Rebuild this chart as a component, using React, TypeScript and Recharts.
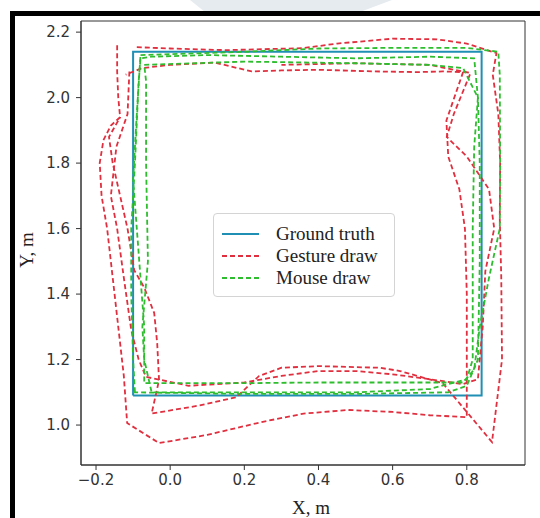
import {
  LineChart,
  Line,
  XAxis,
  YAxis,
  Legend,
  Label,
  ReferenceArea,
} from "recharts";

// axis setup
const xTicks = [-0.2, 0.0, 0.2, 0.4, 0.6, 0.8];
const yTicks = [1.0, 1.2, 1.4, 1.6, 1.8, 2.0, 2.2];
const xDomain: [number, number] = [-0.2405, 0.957];
const yDomain: [number, number] = [0.878, 2.234];

// ground truth square
const groundTruth: [number, number][] = [
  [-0.1, 1.09], [0.84, 1.09], [0.84, 2.14], [-0.1, 2.14], [-0.1, 1.09],
];

// gesture draw runs (red)
const gestureRun1: [number, number][] = [
  [-0.143, 2.16], [-0.143, 2.08], [-0.14, 2.0], [-0.135, 1.94], [-0.16, 1.915],
  [-0.18, 1.87], [-0.19, 1.8], [-0.185, 1.7], [-0.17, 1.6], [-0.155, 1.45],
  [-0.14, 1.3], [-0.125, 1.15], [-0.116, 1.006], [-0.03, 0.945], [0.1, 0.97],
  [0.25, 1.01], [0.36, 1.035], [0.48, 1.046], [0.6, 1.04], [0.7, 1.03],
  [0.8, 1.024], [0.8, 1.2], [0.8, 1.4], [0.795, 1.6], [0.78, 1.72],
  [0.75, 1.82], [0.745, 1.93], [0.79, 2.078], [0.735, 2.08], [0.67, 2.078],
  [0.55, 2.08], [0.4, 2.085], [0.3, 2.083], [0.22, 2.08], [0.12, 2.107],
  [0.0, 2.1], [-0.076, 2.09], [-0.12, 2.07],
];
const gestureRun2: [number, number][] = [
  [-0.09, 2.154], [0.0, 2.15], [0.15, 2.145], [0.357, 2.151], [0.45, 2.165],
  [0.6, 2.18], [0.72, 2.178], [0.8, 2.165], [0.88, 2.136], [0.87, 2.07],
  [0.885, 1.95], [0.89, 1.8], [0.889, 1.63], [0.893, 1.45], [0.895, 1.2],
  [0.868, 0.948], [0.735, 1.128], [0.62, 1.165], [0.565, 1.175], [0.4, 1.18],
  [0.3, 1.175], [0.24, 1.15], [0.178, 1.085], [0.08, 1.06], [-0.05, 1.035],
  [-0.03, 1.137], [-0.035, 1.25], [-0.043, 1.342], [-0.07, 1.42], [-0.097, 1.473],
  [-0.115, 1.6], [-0.135, 1.7], [-0.155, 1.8], [-0.165, 1.88], [-0.135, 1.94],
];
const gestureRun3: [number, number][] = [
  [-0.11, 2.08], [-0.115, 1.95], [-0.145, 1.85], [-0.16, 1.7], [-0.143, 1.6],
  [-0.125, 1.45], [-0.105, 1.29], [-0.085, 1.2], [-0.065, 1.147], [0.05, 1.12],
  [0.2, 1.13], [0.3, 1.15], [0.4, 1.165], [0.5, 1.165], [0.6, 1.155],
  [0.7, 1.14], [0.79, 1.125], [0.83, 1.14], [0.843, 1.3], [0.85, 1.47],
  [0.874, 1.6], [0.86, 1.72], [0.8, 1.82], [0.746, 1.88], [0.765, 1.95],
  [0.81, 2.075], [0.7, 2.1], [0.5, 2.105], [0.3, 2.1],
];

// mouse draw runs (green)
const mouseRun1: [number, number][] = [
  [-0.1, 1.1], [0.2, 1.095], [0.5, 1.095], [0.75, 1.1], [0.8, 1.12],
  [0.83, 1.2], [0.835, 1.5], [0.835, 1.8], [0.83, 2.0], [0.82, 2.12],
  [0.7, 2.125], [0.5, 2.12], [0.3, 2.125], [0.1, 2.13], [-0.05, 2.125],
  [-0.08, 2.12], [-0.085, 2.05], [-0.095, 1.8], [-0.105, 1.6], [-0.105, 1.4],
  [-0.1, 1.2], [-0.095, 1.1],
];
const mouseRun2: [number, number][] = [
  [-0.08, 2.13], [0.2, 2.14], [0.4, 2.15], [0.6, 2.152], [0.8, 2.152],
  [0.885, 2.14], [0.889, 2.07], [0.89, 1.8], [0.889, 1.6], [0.86, 1.45],
  [0.835, 1.3], [0.82, 1.17], [0.79, 1.13], [0.6, 1.13], [0.4, 1.13],
  [0.2, 1.128], [-0.07, 1.128], [-0.07, 1.3], [-0.08, 1.45], [-0.09, 1.6],
  [-0.1, 1.75], [-0.09, 1.95], [-0.08, 2.13],
];
const mouseRun3: [number, number][] = [
  [-0.07, 2.1], [0.2, 2.11], [0.5, 2.105], [0.7, 2.1], [0.79, 2.09],
  [0.83, 2.0], [0.82, 1.85], [0.816, 1.6], [0.816, 1.4], [0.816, 1.2],
  [0.8, 1.14], [0.7, 1.11], [0.5, 1.1], [0.2, 1.1], [-0.05, 1.1],
  [-0.07, 1.2], [-0.075, 1.3], [-0.06, 1.5], [-0.065, 1.8], [-0.065, 2.05],
  [-0.07, 2.1],
];

const BLUE = "#1f8fb4";
const RED = "#e0303f";
const GREEN = "#2ebd2e";

const toPts = (arr: [number, number][]) => arr.map(([x, y]) => ({ x, y }));

const fmt = (v: number) => (v < 0 ? "\u2212" + Math.abs(v).toFixed(1) : v.toFixed(1));

const tickStyle = { fontFamily: "DejaVu Sans", fontSize: 15, fill: "#333" };

const renderLegend = () => {
  const rows = [
    { label: "Ground truth", color: BLUE, dash: undefined },
    { label: "Gesture draw", color: RED, dash: "5 3" },
    { label: "Mouse draw", color: GREEN, dash: "5 3" },
  ];
  return (
    <div
      style={{
        border: "1px solid #d4d4d4",
        borderRadius: 4,
        background: "rgba(255,255,255,0.9)",
        width: 182,
        height: 84,
        boxSizing: "border-box",
        paddingTop: 9,
        fontFamily: '"Liberation Serif", serif',
        fontSize: 19,
        color: "#222",
      }}
    >
      {rows.map((r) => (
        <div key={r.label} style={{ display: "flex", alignItems: "center", height: 22 }}>
          <svg width={62} height={22}>
            <line x1={8} x2={45} y1={11} y2={11} stroke={r.color} strokeWidth={2} strokeDasharray={r.dash} />
          </svg>
          <span style={{ lineHeight: "22px" }}>{r.label}</span>
        </div>
      ))}
    </div>
  );
};

const redRuns = [gestureRun1, gestureRun2, gestureRun3];
const greenRuns = [mouseRun1, mouseRun2, mouseRun3];

export default function App() {
  return (
    <div style={{ position: "absolute", left: 0, top: 0, width: 540, height: 518, background: "#fff" }}>
      <div
        style={{
          position: "absolute", left: 0, top: 0, width: 540, height: 12, background: "#e6ebf0",
          clipPath: "polygon(190px 0, 392px 0, 360px 12px, 205px 12px)",
        }}
      />
      <div style={{ position: "absolute", left: 10, top: 11, width: 530, height: 5, background: "#000" }} />
      <div style={{ position: "absolute", left: 10, top: 11, width: 5, height: 507, background: "#000" }} />
      <div style={{ position: "absolute", left: 0, top: 0 }}>
        <LineChart width={540} height={518} margin={{ top: 21, right: 15, bottom: 0, left: 0 }}>
          <XAxis
            type="number"
            dataKey="x"
            domain={xDomain}
            ticks={xTicks}
            tickFormatter={fmt}
            allowDataOverflow
            height={53}
            tickSize={5}
            tickMargin={4}
            stroke="#333"
            tick={tickStyle}
          >
            <Label
              content={() => (
                <text x={311} y={514} textAnchor="middle" fontFamily="Liberation Serif" fontSize={19} fill="#222">
                  X, m
                </text>
              )}
            />
          </XAxis>
          <YAxis
            type="number"
            dataKey="y"
            domain={yDomain}
            ticks={yTicks}
            tickFormatter={fmt}
            allowDataOverflow
            width={81}
            tickSize={5}
            tickMargin={6}
            stroke="#333"
            tick={tickStyle}
          >
            <Label
              content={() => (
                <text
                  x={26}
                  y={250}
                  transform="rotate(-90 26 250)"
                  textAnchor="middle"
                  dominantBaseline="central"
                  fontFamily="Liberation Serif"
                  fontSize={19}
                  fill="#222"
                >
                  Y, m
                </text>
              )}
            />
          </YAxis>
          <ReferenceArea
            x1={xDomain[0]}
            x2={xDomain[1]}
            y1={yDomain[0]}
            y2={yDomain[1]}
            fill="none"
            stroke="#333"
            strokeWidth={1}
            ifOverflow="visible"
          />
          <Legend
            content={renderLegend}
            layout="horizontal"
            verticalAlign="middle"
            align="center"
            wrapperStyle={{ left: 213, top: 213, width: 182, height: 84 }}
          />
          <Line
            data={toPts(groundTruth)}
            dataKey="y"
            type="linear"
            stroke={BLUE}
            strokeWidth={2}
            dot={false}
            isAnimationActive={false}
          />
          {redRuns.map((run, i) => (
            <Line
              key={"r" + i}
              data={toPts(run)}
              dataKey="y"
              type="linear"
              stroke={RED}
              strokeWidth={1.8}
              strokeDasharray="5 3"
              dot={false}
              isAnimationActive={false}
            />
          ))}
          {greenRuns.map((run, i) => (
            <Line
              key={"g" + i}
              data={toPts(run)}
              dataKey="y"
              type="linear"
              stroke={GREEN}
              strokeWidth={1.8}
              strokeDasharray="5 3"
              dot={false}
              isAnimationActive={false}
            />
          ))}
        </LineChart>
      </div>
    </div>
  );
}
